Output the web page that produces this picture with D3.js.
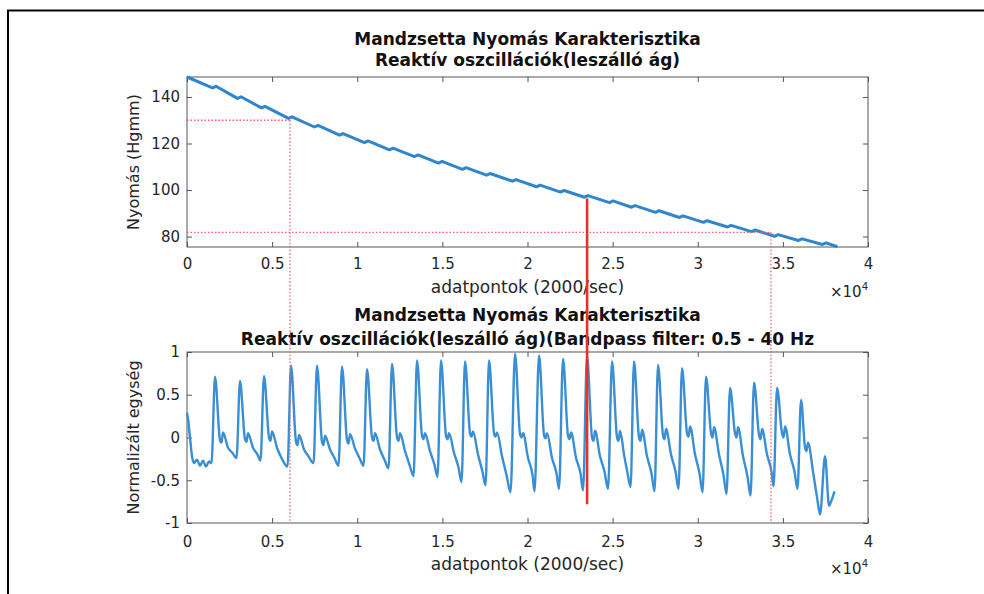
<!DOCTYPE html>
<html>
<head>
<meta charset="utf-8">
<script src="https://cdn.jsdelivr.net/npm/d3@7"></script>
<style>
body { margin: 0; background: #fff; }
text { font-family: "DejaVu Sans", sans-serif; }
</style>
</head>
<body>
<div id="chart"></div>
<script>
// tengely osztások
const xTickVals = [0, 5000, 10000, 15000, 20000, 25000, 30000, 35000, 40000];
const xTickLabels = ["0", "0.5", "1", "1.5", "2", "2.5", "3", "3.5", "4"];
const pressTicks = [80, 100, 120, 140];
const normTicks = [-1, -0.5, 0, 0.5, 1];
const normTickLabels = ["-1", "-0.5", "0", "0.5", "1"];

// mandzsetta nyomás (adatpont, Hgmm)
const pressT = [0, 1495, 1705, 2963, 3173, 4373, 4583, 5959, 6169, 7486, 7696, 8955, 9165, 10423, 10633,
  11892, 12102, 13360, 13570, 14770, 14980, 16180, 16390, 17590, 17800, 19117, 19327, 20527, 20737,
  21937, 22147, 23346, 23556, 24815, 25025, 26107, 26317, 27517, 27727, 28926, 29136, 30336, 30546,
  31746, 31956, 33156, 33366, 34507, 34717, 35917, 36127, 37327, 37537, 38200];
const pressV = [148.6, 143.9, 144.6, 139.4, 140.1, 135.3, 136.0, 130.8, 131.5, 127.1, 127.8, 123.6, 124.3, 120.4, 121.1,
  117.3, 118.0, 114.4, 115.1, 111.6, 112.3, 108.9, 109.6, 106.4, 107.1, 103.8, 104.5, 101.4, 102.1,
  99.1, 99.8, 96.9, 97.6, 94.6, 95.3, 92.6, 93.3, 90.4, 91.1, 88.2, 88.9, 86.1, 86.8,
  84.1, 84.8, 82.1, 82.8, 80.1, 80.8, 78.3, 79.0, 76.6, 77.3, 75.6];

// szűrt oszcilláció (adatpont, normalizált)
const oscT = [0, 59, 176, 294, 411, 587, 764, 940, 1116, 1292, 1439,
  1645, 1939, 2027, 2115, 2409, 2673, 2908,
  3113, 3407, 3495, 3583, 3877, 4141, 4317,
  4523, 4817, 4905, 4993, 5287, 5551, 5903,
  6109, 6403, 6491, 6579, 6873, 7137, 7431,
  7636, 7930, 8018, 8106, 8400, 8664, 8899,
  9105, 9399, 9487, 9575, 9869, 10133, 10368,
  10573, 10867, 10955, 11043, 11337, 11601, 11836,
  12042, 12336, 12424, 12512, 12806, 13070, 13305,
  13510, 13804, 13892, 13980, 14274, 14538, 14715,
  14920, 15214, 15302, 15390, 15684, 15948, 16125,
  16330, 16624, 16712, 16800, 17094, 17358, 17534,
  17740, 18034, 18122, 18210, 18504, 18768, 19003,
  19267, 19561, 19649, 19737, 20031, 20295, 20412,
  20677, 20971, 21059, 21147, 21441, 21705, 21852,
  22087, 22381, 22469, 22557, 22851, 23115, 23262,
  23496, 23790, 23878, 23966, 24260, 24524, 24730,
  24965, 25259, 25347, 25435, 25670, 25860, 26052,
  26257, 26551, 26639, 26727, 27021, 27285, 27461,
  27667, 27961, 28049, 28137, 28431, 28695, 28871,
  29076, 29370, 29458, 29546, 29840, 30104, 30281,
  30486, 30780, 30868, 30956, 31250, 31514, 31690,
  31896, 32190, 32278, 32366, 32660, 32924, 33100,
  33306, 33600, 33688, 33776, 34070, 34334, 34451,
  34657, 34951, 35039, 35127, 35421, 35685, 35861,
  36067, 36302, 36390, 36478, 36772, 37007, 37183,
  37477, 37712, 37829, 38035];
const oscV = [0.29, 0.22, 0.0, -0.22, -0.3, -0.26, -0.33, -0.27, -0.34, -0.28, -0.3,
  0.71, -0.03, -0.06, 0.06, -0.12, -0.18, -0.24,
  0.66, -0.02, -0.05, 0.05, -0.12, -0.2, -0.27,
  0.72, 0.0, -0.04, 0.07, -0.12, -0.24, -0.34,
  0.84, -0.05, -0.09, 0.03, -0.14, -0.22, -0.3,
  0.84, -0.05, -0.09, 0.02, -0.14, -0.24, -0.33,
  0.83, -0.03, -0.07, 0.04, -0.13, -0.24, -0.33,
  0.80, 0.0, -0.04, 0.05, -0.14, -0.26, -0.36,
  0.86, 0.0, -0.04, 0.05, -0.16, -0.32, -0.45,
  0.90, 0.02, -0.02, 0.05, -0.16, -0.32, -0.46,
  0.90, 0.02, -0.02, 0.05, -0.18, -0.35, -0.52,
  0.89, 0.05, 0.01, 0.07, -0.2, -0.4, -0.56,
  0.90, 0.05, 0.01, 0.06, -0.22, -0.44, -0.64,
  0.98, 0.04, 0.0, 0.05, -0.24, -0.44, -0.63,
  0.96, 0.03, -0.01, 0.05, -0.24, -0.42, -0.6,
  0.92, 0.02, -0.02, 0.06, -0.24, -0.42, -0.62,
  0.95, 0.0, -0.04, 0.08, -0.22, -0.4, -0.6,
  0.89, 0.0, -0.04, 0.08, -0.2, -0.4, -0.58,
  0.89, 0.0, -0.04, 0.09, -0.22, -0.42, -0.63,
  0.85, 0.02, -0.02, 0.1, -0.2, -0.4, -0.6,
  0.81, 0.05, 0.01, 0.13, -0.2, -0.42, -0.64,
  0.71, 0.05, 0.0, 0.12, -0.2, -0.44, -0.66,
  0.58, 0.05, 0.0, 0.12, -0.22, -0.46, -0.68,
  0.64, 0.03, -0.02, 0.1, -0.2, -0.4, -0.57,
  0.58, 0.05, 0.0, 0.13, -0.2, -0.4, -0.6,
  0.44, -0.12, -0.16, -0.06, -0.4, -0.7, -0.9,
  -0.22, -0.8, -0.75, -0.63];

// jelölő vonalak
const markT = [6050, 34300];   // szaggatott függőlegesek
const markP = [130, 81.8];     // szaggatott vízszintesek (Hgmm)
const redT = 23500, redP = 96.4, redN = -0.78;

const svg = d3.select("#chart").append("svg").attr("width", 984).attr("height", 594);

// keret
svg.append("path").attr("d", "M8,594V10.5H984").attr("fill", "none").attr("stroke", "#000").attr("stroke-width", 2);

const x = d3.scaleLinear().domain([0, 40000]).range([187, 868]);
const yP = d3.scaleLinear().domain([75.5, 148.6]).range([247, 77]);
const yN = d3.scaleLinear().domain([-1, 1]).range([523, 352]);

function panel(y, ticks, labels, xPad, titles, titleY, yLabel, xLabelY) {
  const [b, t] = y.range();
  const g = svg.append("g");
  const styleAxis = sel => {
    sel.select(".domain").remove();
    sel.selectAll("line").attr("stroke", "#555");
    sel.selectAll("text").attr("fill", "#262626").attr("font-size", 15).attr("font-family", "DejaVu Sans");
  };
  g.append("g").attr("transform", `translate(0,${b})`)
    .call(d3.axisBottom(x).tickValues(xTickVals).tickFormat((d, i) => xTickLabels[i]).tickSizeInner(-5).tickSizeOuter(0).tickPadding(xPad))
    .call(styleAxis);
  g.append("g").attr("transform", `translate(0,${t})`)
    .call(d3.axisTop(x).tickValues(xTickVals).tickFormat("").tickSizeInner(-5).tickSizeOuter(0))
    .call(styleAxis);
  g.append("g").attr("transform", `translate(${x.range()[0]},0)`)
    .call(d3.axisLeft(y).tickValues(ticks).tickFormat((d, i) => labels[i]).tickSizeInner(-5).tickSizeOuter(0).tickPadding(7))
    .call(styleAxis);
  g.append("g").attr("transform", `translate(${x.range()[1]},0)`)
    .call(d3.axisRight(y).tickValues(ticks).tickFormat("").tickSizeInner(-5).tickSizeOuter(0))
    .call(styleAxis);
  g.append("rect").attr("x", x.range()[0]).attr("y", t).attr("width", x.range()[1] - x.range()[0]).attr("height", b - t)
    .attr("fill", "none").attr("stroke", "#555").attr("stroke-width", 1);

  const cx = (x.range()[0] + x.range()[1]) / 2;
  titles.forEach((s, i) => g.append("text").attr("x", cx).attr("y", titleY[i]).attr("text-anchor", "middle")
    .attr("font-size", 17).attr("font-weight", "bold").attr("fill", "#111").text(s));
  g.append("text").attr("x", cx).attr("y", xLabelY).attr("text-anchor", "middle")
    .attr("font-size", 17).attr("fill", "#262626").text("adatpontok (2000/sec)");
  const ex = g.append("text").attr("x", x.range()[1]).attr("y", xLabelY + 4).attr("text-anchor", "end")
    .attr("font-size", 15).attr("fill", "#262626");
  ex.append("tspan").text("×10");
  ex.append("tspan").attr("dy", -7).attr("font-size", 10).text("4");
  g.append("text").attr("transform", `translate(138.5,${(b + t) / 2}) rotate(-90)`).attr("text-anchor", "middle")
    .attr("font-size", 16).attr("fill", "#262626").text(yLabel);
}

panel(yP, pressTicks, pressTicks.map(String), 11,
  ["Mandzsetta Nyomás Karakterisztika", "Reaktív oszcillációk(leszálló ág)"], [45, 65.5],
  "Nyomás (Hgmm)", 293);
panel(yN, normTicks, normTickLabels, 13,
  ["Mandzsetta Nyomás Karakterisztika", "Reaktív oszcillációk(leszálló ág)(Bandpass filter: 0.5 - 40 Hz"], [321, 345],
  "Normalizált egység", 570);

// görbék
svg.append("path").datum(d3.zip(pressT, pressV))
  .attr("d", d3.line().x(d => x(d[0])).y(d => yP(d[1])))
  .attr("fill", "none").attr("stroke", "#2f86cc").attr("stroke-width", 3).attr("stroke-linejoin", "round");
svg.append("path").datum(d3.zip(oscT, oscV))
  .attr("d", d3.line().curve(d3.curveMonotoneX).x(d => x(d[0])).y(d => yN(d[1])))
  .attr("fill", "none").attr("stroke", "#3a8fd4").attr("stroke-width", 2.4).attr("stroke-linejoin", "round");

// piros jelölések
const red = svg.append("g");
markT.forEach((t, i) => {
  red.append("line").attr("x1", x(0)).attr("x2", x(t)).attr("y1", yP(markP[i])).attr("y2", yP(markP[i]))
    .attr("stroke", "#f06070").attr("stroke-width", 1.3).attr("stroke-dasharray", "1.5,2");
  red.append("line").attr("x1", x(t)).attr("x2", x(t)).attr("y1", yP(markP[i])).attr("y2", yN(-1))
    .attr("stroke", "#f06070").attr("stroke-width", 1.3).attr("stroke-dasharray", "1.5,2");
});
red.append("line").attr("x1", x(redT)).attr("x2", x(redT)).attr("y1", yP(redP)).attr("y2", yN(redN))
  .attr("stroke", "#e53228").attr("stroke-width", 2.6);
</script>
</body>
</html>
